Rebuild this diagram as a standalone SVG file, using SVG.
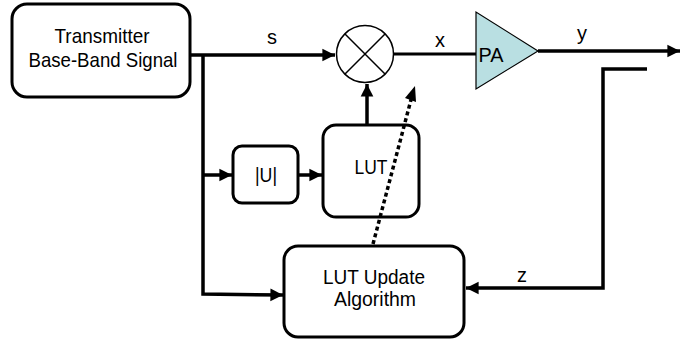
<svg xmlns="http://www.w3.org/2000/svg" width="681" height="343" viewBox="0 0 681 343">
  <defs>
    <marker id="arr" viewBox="0 0 10 10" refX="10" refY="5" markerWidth="3.6" markerHeight="4.2" orient="auto" markerUnits="strokeWidth">
      <path d="M0,0 L10,5 L0,10 z" fill="#000"/>
    </marker>
    <style>
      .box { fill: #fff; stroke: #000; stroke-width: 3; }
      .wire { fill: none; stroke: #000; stroke-width: 3.5; }
      .txt { font-family: "Liberation Sans", Arial, sans-serif; font-size: 21px; fill: #000; text-anchor: middle; }
      .sm { font-size: 20px; }
    </style>
  </defs>
  <rect width="681" height="343" fill="#fff"/>

  <g id="transmitter">
    <rect class="box" x="12" y="4" width="178" height="93" rx="15"/>
    <text class="txt" x="102" y="43" textLength="95" lengthAdjust="spacingAndGlyphs">Transmitter</text>
    <text class="txt" x="103" y="67" textLength="149" lengthAdjust="spacingAndGlyphs">Base-Band Signal</text>
  </g>

  <g id="mixer">
    <circle cx="365" cy="54" r="28.5" fill="#fff" stroke="#000" stroke-width="1.5"/>
    <path d="M345,34 L385,74 M385,34 L345,74" stroke="#000" stroke-width="1.5"/>
  </g>

  <g id="pa">
    <polygon points="476,12 476,89 538,51" fill="#b9dfe2" stroke="#000" stroke-width="1.2"/>
    <text x="491" y="62" class="txt" textLength="25" lengthAdjust="spacingAndGlyphs">PA</text>
  </g>

  <g id="abs">
    <rect class="box" x="233" y="146" width="65" height="57" rx="9"/>
    <text class="txt" x="266" y="182" textLength="22" lengthAdjust="spacingAndGlyphs">|U|</text>
  </g>

  <g id="lut">
    <rect class="box" x="323" y="125" width="96" height="92" rx="13"/>
    <text class="txt" x="371" y="174" textLength="33" lengthAdjust="spacingAndGlyphs">LUT</text>
  </g>

  <g id="lut-update">
    <rect class="box" x="284" y="246" width="180" height="91" rx="14"/>
    <text class="txt sm" x="374" y="284" textLength="102" lengthAdjust="spacingAndGlyphs">LUT Update</text>
    <text class="txt sm" x="375" y="306" textLength="82" lengthAdjust="spacingAndGlyphs">Algorithm</text>
  </g>

  <g id="connectors">
    <path class="wire" d="M190,55 L335,55" marker-end="url(#arr)"/>
    <path class="wire" d="M203,55 L203,294 L283,295" marker-end="url(#arr)"/>
    <path class="wire" d="M203,175 L232,175" marker-end="url(#arr)"/>
    <path class="wire" d="M298,175 L322,175" marker-end="url(#arr)"/>
    <path class="wire" d="M367,125 L367,84" marker-end="url(#arr)"/>
    <path class="wire" d="M394,54 L476,54" style="stroke-width:3"/>
    <path class="wire" d="M538,51 L680,51" marker-end="url(#arr)"/>
    <path class="wire" d="M647,69 L603,69 L603,288 L466,288" marker-end="url(#arr)"/>
    <path d="M373,244 L412,96" fill="none" stroke="#000" stroke-width="3.5" stroke-dasharray="4,3"/>
    <path d="M405,98 L415,86 L416,102 z" fill="#000"/>
    <text class="txt" x="272" y="44" textLength="10" lengthAdjust="spacingAndGlyphs">s</text>
    <text class="txt" x="440" y="47" textLength="10" lengthAdjust="spacingAndGlyphs">x</text>
    <text class="txt" x="582" y="40" textLength="10" lengthAdjust="spacingAndGlyphs">y</text>
    <text class="txt" x="522" y="282" textLength="10" lengthAdjust="spacingAndGlyphs">z</text>
  </g>
</svg>
